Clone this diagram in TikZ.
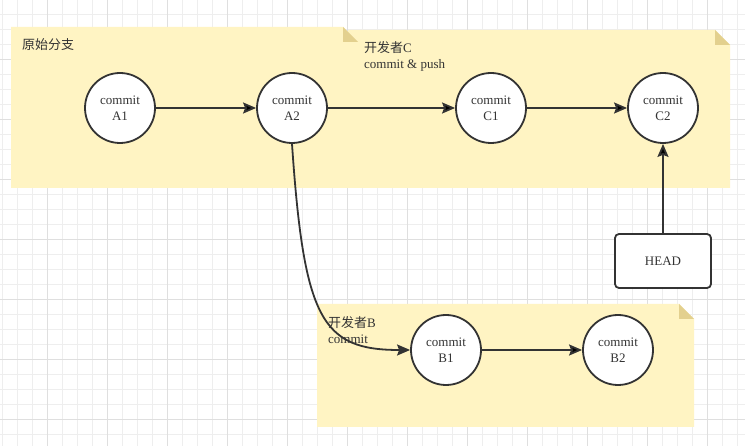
\documentclass[tikz,border=0pt]{standalone}
\usepackage{fontspec}
\setmainfont{Liberation Serif}
\newfontfamily\cjk{Noto Sans CJK SC}
\usetikzlibrary{arrows.meta,positioning}
\definecolor{notefill}{HTML}{FFF4C3}
\definecolor{notefold}{HTML}{E3D08E}
\definecolor{linecol}{HTML}{333333}
\definecolor{gridminor}{HTML}{EEEEEE}
\definecolor{gridmajor}{HTML}{DFDFDF}
\tikzset{>={Stealth[length=13pt,width=11pt,inset=2pt]}}
\tikzset{commit node/.style={circle,fill=white,draw=linecol,line width=1.8pt,minimum size=70pt,inner sep=0pt,align=center,text=linecol,font=\fontsize{13pt}{16pt}\selectfont},
         head node/.style={rectangle,rounded corners=4pt,fill=white,draw=linecol,line width=1.8pt,minimum width=96pt,minimum height=54pt,text=linecol,font=\fontsize{13pt}{16pt}\selectfont},
         note label/.style={anchor=west,align=left,inner sep=0pt,text=linecol,font=\fontsize{13pt}{16pt}\selectfont},
         link/.style={draw=linecol,line width=1.8pt,->},
            }
% yellow note with folded corner: x0, y0, x1, y1
\newcommand{\drawnote}[4]{%
  \fill[notefill] (#1,#2) -- (#3-15,#2) -- (#3,#2+15) -- (#3,#4) -- (#1,#4) -- cycle;
  \fill[notefold] (#3-15,#2) -- (#3-15,#2+15) -- (#3,#2+15) -- cycle;}

\begin{document}
\begin{tikzpicture}[x=1pt,y=-1pt]

    \useasboundingbox (0,0) rectangle (745,446);
    \fill[white] (0,0) rectangle (745,446);

    % grid
    \foreach \g in {0,...,49}
        \draw[gridminor,line width=0.8pt] ({2.7+15*\g},0) -- ({2.7+15*\g},446);
    \foreach \g in {1,...,30}
        \draw[gridminor,line width=0.8pt] (0,{-0.7+15*\g}) -- (745,{-0.7+15*\g});
    \foreach \g in {1,...,12}
        \draw[gridmajor,line width=0.8pt] ({-12.3+60*\g},0) -- ({-12.3+60*\g},446);
    \foreach \g in {1,...,7}
        \draw[gridmajor,line width=0.8pt] (0,{-0.7+60*\g}) -- (745,{-0.7+60*\g});

    % notes
    \drawnote{348}{30}{730}{188}
    \drawnote{11}{27}{358}{188}
    \drawnote{317}{304}{694}{427}

    \node[note label] (main) at (22,45) {{\cjk 原始分支}};
    \node[note label] (devc) at (364,56) {{\cjk 开发者}C\\commit \& push};
    \node[note label] (devb) at (328,330) {{\cjk 开发者}B\\commit};

    \node[commit node] (a1) at (120,108) {commit\\A1};
    \node[commit node] (a2) [right = 100.2pt of a1] {commit\\A2};
    \node[commit node] (c1) [right = 127.2pt of a2] {commit\\C1};
    \node[commit node] (c2) [right = 100.2pt of c1] {commit\\C2};
    \node[head node] (head) [below = 89.2pt of c2] {HEAD};
    \node[commit node] (b1) at (446,350) {commit\\B1};
    \node[commit node] (b2) [right = 100.2pt of b1] {commit\\B2};

    \path[link]
    (a1) edge (a2)
    (a2) edge (c1)
    (c1) edge (c2)
    (b1) edge (b2)
    (head) edge (c2);

    \draw[link] (a2.south) .. controls (304,320) and (322,350) .. (b1.west);

\end{tikzpicture}
\end{document}
